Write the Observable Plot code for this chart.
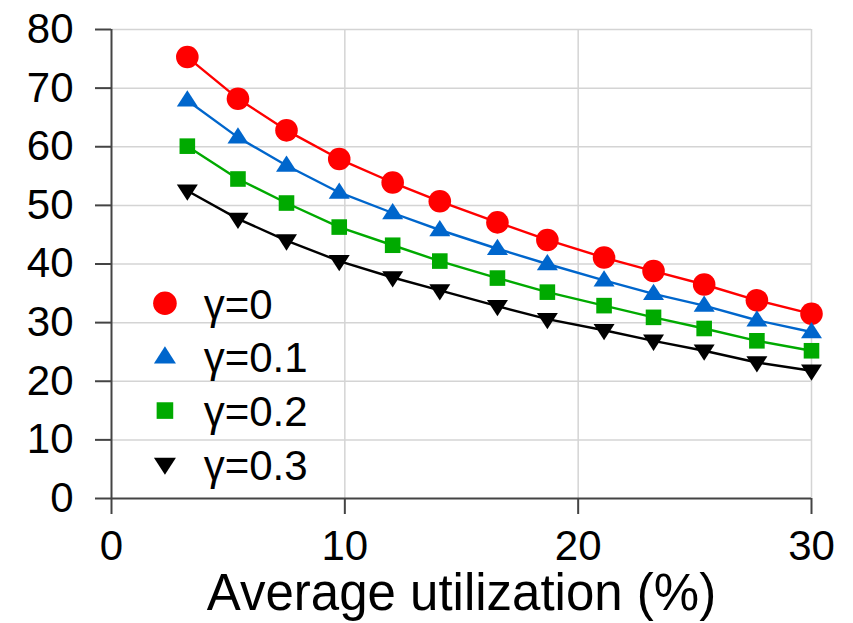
<!DOCTYPE html>
<html>
<head>
<meta charset="utf-8">
<script src="https://cdn.jsdelivr.net/npm/d3@7"></script>
<script src="https://cdn.jsdelivr.net/npm/@observablehq/plot@0.6"></script>
<style>
  html, body { margin: 0; padding: 0; background: #fff; }
  #chart svg { display: block; }
</style>
</head>
<body>
<div id="chart"></div>
<script>
// ---- data ----
const utilization = [3.25, 5.42, 7.50, 9.76, 12.05, 14.07, 16.54, 18.68, 21.11, 23.23, 25.40, 27.66, 30.0];
const gamma0  = [75.3, 68.2, 62.8, 57.9, 53.9, 50.7, 47.1, 44.1, 41.1, 38.8, 36.5, 33.8, 31.5];
const gamma01 = [67.9, 61.6, 56.8, 52.2, 48.7, 45.8, 42.6, 40.0, 37.2, 34.9, 32.9, 30.4, 28.4];
const gamma02 = [60.1, 54.5, 50.4, 46.3, 43.2, 40.5, 37.6, 35.2, 32.9, 30.9, 29.0, 26.9, 25.2];
const gamma03 = [52.5, 47.7, 44.0, 40.5, 37.7, 35.5, 32.8, 30.6, 28.7, 26.9, 25.2, 23.2, 21.8];
const seriesNames = ["γ=0", "γ=0.1", "γ=0.2", "γ=0.3"];
const xTicks = [0, 10, 20, 30];
const yTicks = [0, 10, 20, 30, 40, 50, 60, 70, 80];
const xLabel = "Average utilization (%)";

// ---- styling ----
const colors = ["#ff0000", "#0066cc", "#00aa00", "#000000"];
const upTriangle = {
  draw(ctx, size) {
    const r = Math.sqrt(size / Math.PI);
    const h = r * 1.55;
    ctx.moveTo(0, -h * 0.62);
    ctx.lineTo(r, h * 0.38);
    ctx.lineTo(-r, h * 0.38);
    ctx.closePath();
  }
};
const downTriangle = {
  draw(ctx, size) {
    const r = Math.sqrt(size / Math.PI);
    const h = r * 1.55;
    ctx.moveTo(0, h * 0.62);
    ctx.lineTo(r, -h * 0.38);
    ctx.lineTo(-r, -h * 0.38);
    ctx.closePath();
  }
};
const squareSym = {
  draw(ctx, size) {
    const r = Math.sqrt(size / Math.PI);
    ctx.rect(-r, -r, 2 * r, 2 * r);
  }
};
const symbols = ["circle", upTriangle, squareSym, downTriangle];
const radii = [11.3, 10.5, 7.8, 10.5];

const allValues = [gamma0, gamma01, gamma02, gamma03];
const rows = [];
allValues.forEach((vals, s) => {
  vals.forEach((v, i) => rows.push({ series: s, x: utilization[i], y: v }));
});

// legend layout (data units inside the frame)
const legendX = 2.29, legendTextX = 3.95, legendY0 = 33.3, legendStep = 9.15;
const legendRows = seriesNames.map((name, s) => ({ series: s, name, x: legendX, tx: legendTextX, y: legendY0 - s * legendStep }));

const marks = [
  Plot.gridX(xTicks.filter(d => d > 0), { stroke: "#d4d4d4", strokeOpacity: 1, strokeWidth: 1.5 }),
  Plot.gridY(yTicks.filter(d => d > 0), { stroke: "#d4d4d4", strokeOpacity: 1, strokeWidth: 1.5 }),
  Plot.ruleX([0], { stroke: "#444", strokeWidth: 2 }),
  Plot.ruleY([0], { stroke: "#444", strokeWidth: 2 }),
  Plot.axisX(xTicks, { tickSize: 16, tickPadding: 16, stroke: "#444", strokeWidth: 2, fontSize: 42, fill: "#000", label: null }),
  Plot.axisY(yTicks, { tickSize: 16, tickPadding: 22, stroke: "#444", strokeWidth: 2, fontSize: 42, fill: "#000", label: null }),
];
allValues.forEach((vals, s) => {
  const data = rows.filter(r => r.series === s);
  marks.push(Plot.line(data, { x: "x", y: "y", stroke: colors[s], strokeWidth: 2.4 }));
});
allValues.forEach((vals, s) => {
  const data = rows.filter(r => r.series === s);
  marks.push(Plot.dot(data, { x: "x", y: "y", symbol: () => symbols[s], r: radii[s], fill: colors[s], stroke: "none" }));
  const leg = legendRows.filter(d => d.series === s);
  marks.push(Plot.dot(leg, { x: "x", y: "y", symbol: () => symbols[s], r: radii[s] + 0.5, fill: colors[s], stroke: "none" }));
});
marks.push(Plot.text(legendRows, { x: "tx", y: "y", text: "name", textAnchor: "start", fontSize: 42, fill: "#000", dy: 2 }));
marks.push(Plot.text([xLabel], { frameAnchor: "bottom", text: d => d, fontSize: 51, fill: "#000", dy: 111 }));

const chart = Plot.plot({
  width: 853,
  height: 623,
  marginLeft: 111,
  marginRight: 42,
  marginTop: 29,
  marginBottom: 125,
  style: { fontFamily: "'Liberation Sans', Arial, Helvetica, sans-serif", background: "#fff", overflow: "visible" },
  x: { domain: [0, 30], axis: null },
  y: { domain: [0, 80], axis: null },
  symbol: { type: "identity" },
  marks
});
document.getElementById("chart").appendChild(chart);
</script>
</body>
</html>
